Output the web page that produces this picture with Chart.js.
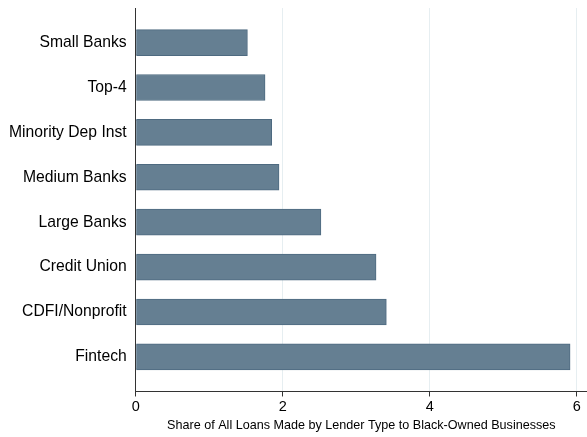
<!DOCTYPE html>
<html>
<head>
<meta charset="utf-8">
<script src="https://cdn.jsdelivr.net/npm/chart.js@4/dist/chart.umd.min.js"></script>
<style>
  html, body { margin: 0; padding: 0; background: #fff; }
  #wrap { width: 587px; height: 437px; }
</style>
</head>
<body>
<div id="wrap"><canvas id="lenderChart"></canvas></div>
<script>
// lender types, top to bottom
const lenders = ["Small Banks", "Top-4", "Minority Dep Inst", "Medium Banks",
                 "Large Banks", "Credit Union", "CDFI/Nonprofit", "Fintech"];
// share of loans (%) to Black-owned businesses
const shares = [1.52, 1.76, 1.85, 1.95, 2.52, 3.27, 3.41, 5.91];
const xTicks = [0, 2, 4, 6];

const points = shares.map((v, i) => ({ x: v, y: i }));

Chart.defaults.font.family = "'Liberation Sans', Arial, sans-serif";
Chart.defaults.color = "#000";

new Chart("lenderChart", {
    type: "bar",
    data: {
        datasets: [{
            data: points,
            backgroundColor: "#657f92",
            borderColor: "#4e6a80",
            borderWidth: 1,
            barThickness: 26
        }]
    },
    options: {
        indexAxis: "y",
        responsive: true,
        maintainAspectRatio: false,
        animation: false,
        layout: { padding: { top: 8, right: 0, bottom: 4, left: 1 } },
        plugins: {
            legend: { display: false },
            tooltip: { enabled: false }
        },
        scales: {
            x: {
                type: "linear",
                min: 0,
                max: 6.14,
                afterBuildTicks: (scale) => { scale.ticks = xTicks.map(v => ({ value: v })); },
                grid: {
                    color: (ctx) => ctx.tick && ctx.tick.value === 0 ? "rgba(0,0,0,0)" : "#e6eef1",
                    lineWidth: 1,
                    drawTicks: true,
                    tickLength: 5,
                    tickColor: "#333"
                },
                border: { display: true, color: "#333", width: 1 },
                ticks: { font: { size: 14.5 }, padding: 2, maxRotation: 0 },
                title: {
                    display: true,
                    text: "Share of All Loans Made by Lender Type to Black-Owned Businesses",
                    font: { size: 12.6 },
                    padding: { top: 0, bottom: 0 }
                }
            },
            y: {
                type: "linear",
                reverse: true,
                offset: false,
                min: -0.77,
                max: 7.77,
                afterBuildTicks: (scale) => { scale.ticks = lenders.map((_, i) => ({ value: i })); },
                afterFit: (scale) => {
                    scale.paddingTop = 0;
                    scale.paddingBottom = 0;
                    scale.width -= 1;
                },
                grid: { display: false, drawTicks: false },
                border: { display: true, color: "#333", width: 1 },
                ticks: {
                    font: { size: 15.7 },
                    padding: 9,
                    callback: (v) => lenders[v]
                }
            }
        }
    }
});
</script>
</body>
</html>
